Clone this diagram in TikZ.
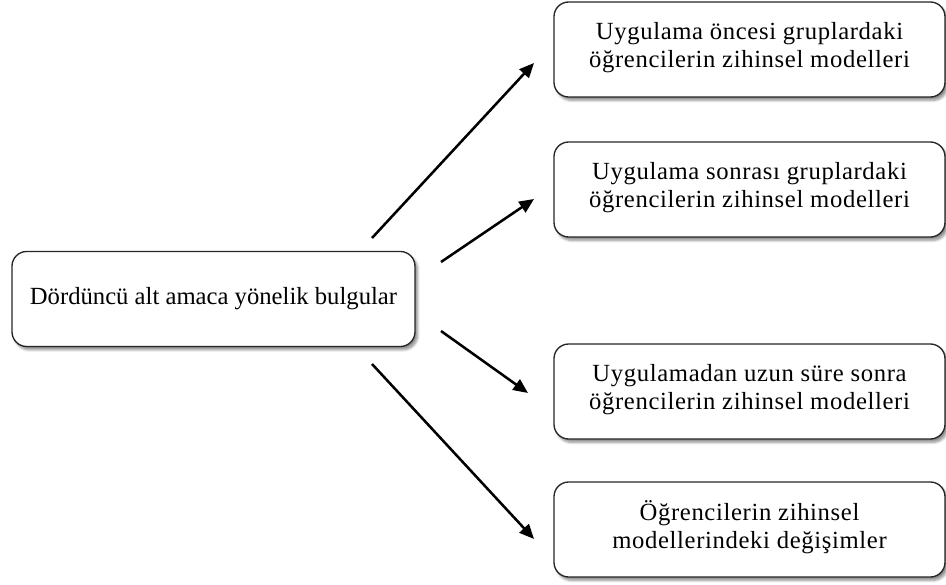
\documentclass[tikz,border=0pt]{standalone}
\usepackage{fontspec}
\setmainfont{Liberation Serif}
\newfontfamily\trackedserif[LetterSpace=2.6]{Liberation Serif}
\usetikzlibrary{arrows.meta,shadows.blur}
\begin{document}
\begin{tikzpicture}[x=0.75pt,y=-0.75pt,
  card/.style={draw=black!85, line width=1pt, rounded corners=11pt, fill=white,
    align=center, inner sep=0pt,
    font=\fontsize{18.5}{21}\selectfont,
    blur shadow={shadow xshift=2pt, shadow yshift=-2.5pt, shadow blur steps=6, shadow opacity=45}},
  sidecard/.style={card, font=\trackedserif\fontsize{18.5}{21}\selectfont,
    minimum width=391*0.75pt, minimum height=95*0.75pt},
  flow/.style={line width=1.9pt, -{Triangle[length=11pt,width=9.5pt]}}]
\useasboundingbox (0,0) rectangle (946,585);

\node[card, minimum width=403*0.75pt, minimum height=95*0.75pt] (main) at (213.5,299)
  {Dördüncü alt amaca yönelik bulgular};

% the two-line cards carry their text slightly above the middle
\foreach \n/\y/\t in {
  b1/49.5/{Uygulama öncesi gruplardaki\\öğrencilerin zihinsel modelleri},
  b2/189.5/{Uygulama sonrası gruplardaki\\öğrencilerin zihinsel modelleri},
  b3/391.5/{Uygulamadan uzun süre sonra\\öğrencilerin zihinsel modelleri},
  b4/529.5/{Öğrencilerin zihinsel\\modellerindeki değişimler}}
  \node[sidecard] (\n) at (749.5,\y) {\t\\[-13.5pt]\mbox{}};

% arrow end points between the source card and the target cards
\coordinate (s1) at (372,238);  \coordinate (e1) at (534,63);
\coordinate (s2) at (441,262);  \coordinate (e2) at (534,199);
\coordinate (s3) at (441,331);  \coordinate (e3) at (528,393);
\coordinate (s4) at (372,364);  \coordinate (e4) at (534,539);

\draw[flow] (s1) -- (e1);
\draw[flow] (s2) -- (e2);
\draw[flow] (s3) -- (e3);
\draw[flow] (s4) -- (e4);
\end{tikzpicture}
\end{document}
